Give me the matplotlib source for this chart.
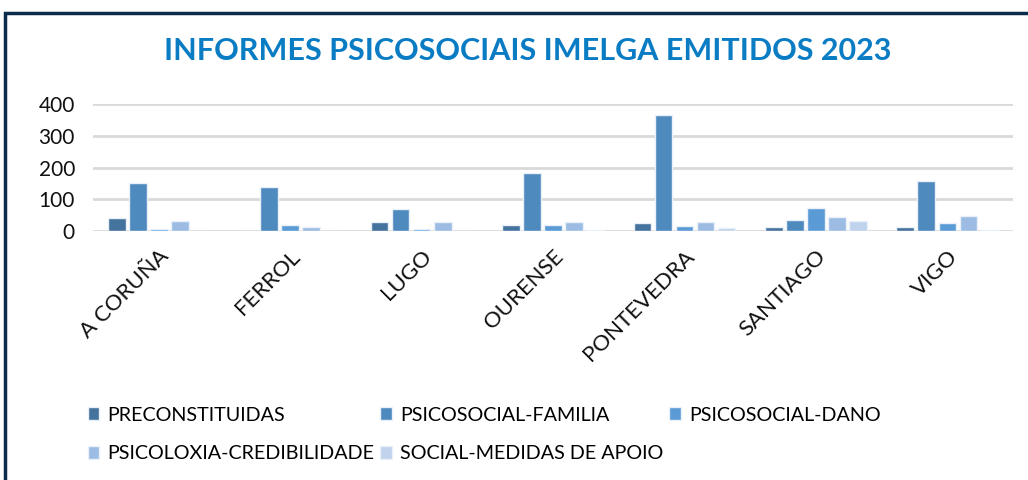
import matplotlib.pyplot as plt
import matplotlib.patches as mpatches
import numpy as np

plt.rcParams['font.family'] = ['Lato', 'DejaVu Sans']

cidades = ["A CORUÑA", "FERROL", "LUGO", "OURENSE", "PONTEVEDRA", "SANTIAGO", "VIGO"]
series = ["PRECONSTITUIDAS", "PSICOSOCIAL-FAMILIA", "PSICOSOCIAL-DANO",
          "PSICOLOXIA-CREDIBILIDADE", "SOCIAL-MEDIDAS DE APOIO"]
preconstituidas = [41, 0, 28, 17, 25, 12, 13]
psicosocial_familia = [152, 140, 70, 183, 366, 35, 158]
psicosocial_dano = [5, 19, 6, 19, 16, 73, 25]
psicoloxia_credibilidade = [31, 12, 27, 27, 27, 43, 46]
social_medidas = [0, 0, 0, 2, 9, 31, 3]
valores = [preconstituidas, psicosocial_familia, psicosocial_dano,
           psicoloxia_credibilidade, social_medidas]
cores = ["#44739e", "#4f8abf", "#5b9bd5", "#9dbce3", "#bfd3ec"]

fig = plt.figure(figsize=(10.28, 4.8), dpi=100)
ax = fig.add_axes([0.0905, 0.519, 0.895, 0.264])

x = np.arange(len(cidades))
paso = 0.16
ancho = 0.135
for i, (nome, vals, cor) in enumerate(zip(series, valores, cores)):
    ax.bar(x + (i - 2) * paso, vals, ancho, color=cor, label=nome,
           edgecolor="#e9f0f8", linewidth=1.0, zorder=3)

ax.set_xlim(-0.5, len(cidades) - 0.5)
ax.set_ylim(0, 400)
ax.set_yticks([0, 100, 200, 300, 400])
ax.yaxis.grid(True, color="#d9d9d9", linewidth=2, zorder=0)
for s in ax.spines.values():
    s.set_visible(False)
ax.tick_params(axis='both', length=0, colors="#111111")
ax.tick_params(axis='y', pad=13, labelsize=15)
ax.set_xticks(x)
ax.set_xticklabels(cidades, rotation=45, ha='right', rotation_mode='anchor', fontsize=16)
ax.tick_params(axis='x', pad=11)

fig.text(0.513, 0.893, "INFORMES PSICOSOCIAIS IMELGA EMITIDOS 2023",
         ha='center', va='center', fontsize=22, fontweight='bold', color="#0a7cc4",
         family=['Liberation Sans Narrow', 'Lato', 'DejaVu Sans'])

# recadro escuro
borde = mpatches.Rectangle((5 / 1028, -0.1), 1.2, 1 - 13 / 480 + 0.1,
                           transform=fig.transFigure, fill=False,
                           edgecolor="#0b2d4a", linewidth=2.5, clip_on=False)
fig.patches.append(borde)

h, l = ax.get_legend_handles_labels()
orde = [0, 3, 1, 4, 2]
fig.legend([h[k] for k in orde], [l[k] for k in orde], ncol=3,
           loc='upper left', bbox_to_anchor=(0.068, 0.19), frameon=False,
           fontsize=14.2, handlelength=0.6, handleheight=0.6, handletextpad=0.4,
           columnspacing=0.3, labelspacing=1.1)

fig.savefig("out.png", dpi=100)
